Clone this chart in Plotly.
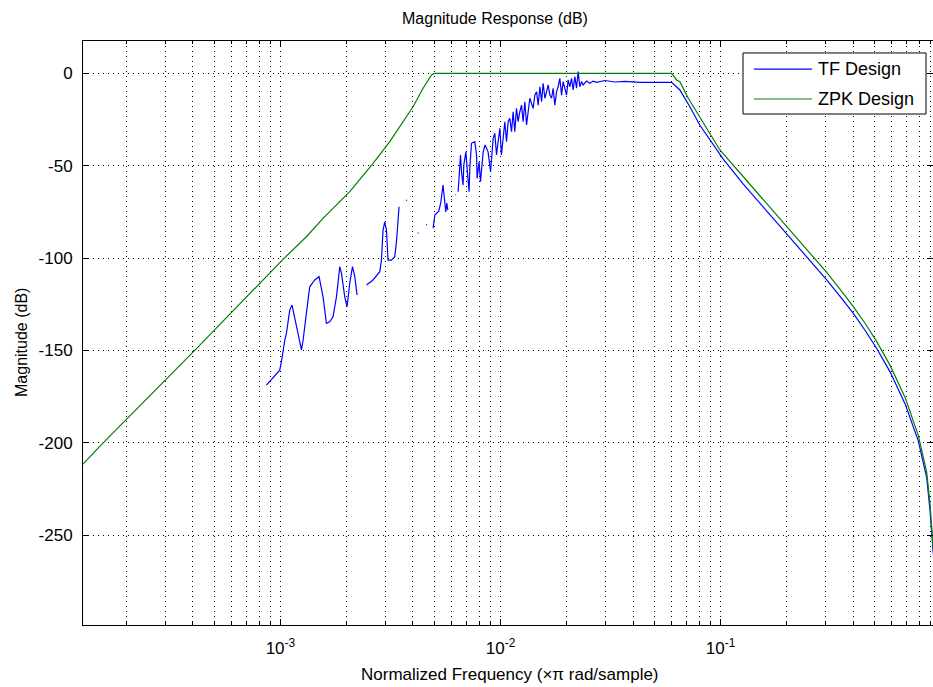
import plotly.graph_objects as go

# Normalized frequency (x pi rad/sample) and magnitude (dB); None breaks the line
tf_freq = [
    8.64e-4, 9.93e-4, 1.010e-3, 1.028e-3, 1.047e-3, 1.065e-3, 1.102e-3, 1.129e-3,
    1.161e-3, 1.202e-3, 1.246e-3, 1.268e-3, 1.312e-3, 1.359e-3, 1.432e-3, 1.498e-3,
    1.562e-3, 1.618e-3, 1.675e-3, 1.734e-3, 1.797e-3, 1.860e-3, 1.894e-3, 1.960e-3,
    2.008e-3, 2.065e-3, 2.125e-3, 2.177e-3, 2.230e-3, None,
    2.460e-3, 2.636e-3, 2.827e-3, 2.877e-3, 2.926e-3, 2.978e-3, 3.032e-3, 3.083e-3,
    3.195e-3, 3.307e-3, 3.367e-3, 3.424e-3, 3.459e-3, None,
    3.72e-3, 3.76e-3, None,
    4.20e-3, 4.24e-3, None,
    4.59e-3, 4.63e-3, None,
    4.94e-3, 5.03e-3, 5.24e-3, 5.35e-3, 5.48e-3, 5.55e-3, 5.64e-3, 5.70e-3, 5.76e-3, None,
    5.97e-3, 6.01e-3, None,
    6.24e-3, 6.28e-3, None,
    6.42e-3, 6.48e-3, 6.58e-3, 6.65e-3, 6.76e-3, 6.81e-3, 6.96e-3, 7.06e-3, 7.20e-3,
    7.25e-3, 7.38e-3, 7.64e-3, 7.78e-3, 7.83e-3, 7.99e-3, 8.11e-3, 8.22e-3, 8.34e-3,
    8.51e-3, 8.78e-3, 9.01e-3, 9.10e-3, 9.26e-3, 9.42e-3, 9.59e-3, 9.75e-3, 9.93e-3,
    1.010e-2, 1.027e-2, 1.046e-2, 1.065e-2, 1.083e-2, 1.102e-2, 1.122e-2, 1.141e-2,
    1.161e-2, 1.182e-2, 1.202e-2, 1.224e-2, 1.246e-2, 1.267e-2, 1.290e-2, 1.313e-2,
    1.335e-2, 1.359e-2, 1.407e-2, 1.432e-2, 1.458e-2, 1.483e-2, 1.510e-2, 1.537e-2,
    1.562e-2, 1.591e-2, 1.619e-2, 1.646e-2, 1.676e-2, 1.706e-2, 1.734e-2, 1.765e-2,
    1.797e-2, 1.827e-2, 1.860e-2, 1.894e-2, 1.926e-2, 1.960e-2, 1.995e-2, 2.029e-2,
    2.065e-2, 2.102e-2, 2.138e-2, 2.177e-2, 2.215e-2, 2.253e-2, 2.293e-2, 2.334e-2,
    2.374e-2, 2.460e-2, 2.547e-2, 2.636e-2, 2.732e-2, 2.98e-2, 3.307e-2, 3.67e-2,
    4.30e-2, 5.03e-2, 5.99e-2, 6.53e-2, 7.25e-2, 8.04e-2, 0.1028, 0.1268, 0.1618,
    0.1995, 0.2512, 0.3034, 0.3548, 0.401, 0.457, 0.512, 0.588, 0.689, 0.791,
    0.864, 0.894, 0.912, 0.927,
]
tf_db = [
    -168.8, -160.7, -156.2, -149.8, -144.4, -140.8, -128.2, -125.5,
    -131.8, -140.8, -149.8, -144.4, -130.0, -115.6, -111.9, -110.1,
    -121.0, -135.4, -134.5, -131.8, -121.0, -104.7, -108.3, -121.0,
    -126.4, -113.7, -104.7, -110.1, -120.0, None,
    -114.6, -111.9, -107.4, -101.1, -84.9, -80.4, -84.9, -101.1,
    -101.1, -99.3, -91.2, -79.4, -72.2, None,
    -68.6, -68.9, None,
    -86.6, -86.4, None,
    -82.1, -81.8, None,
    -83.9, -76.7, -74.6, -70.2, -60.5, -68.6, -75.1, -70.2, -74.0, None,
    -68.6, -68.3, None,
    -65.9, -65.6, None,
    -64.1, -55.1, -44.2, -53.3, -60.5, -49.7, -42.5, -52.4, -64.1,
    -51.4, -37.9, -37.0, -44.2, -56.9, -47.9, -58.7, -49.7, -42.5,
    -38.8, -42.5, -53.3, -44.2, -35.2, -32.5, -44.2, -37.0, -29.8,
    -44.2, -33.4, -26.2, -37.0, -26.2, -24.4, -31.6, -20.8,
    -31.6, -19.0, -26.2, -20.8, -17.2, -26.2, -15.4, -28.0,
    -20.8, -13.5, -19.0, -11.8, -10.0, -17.2, -7.3, -15.4,
    -5.4, -13.5, -10.0, -6.3, -11.8, -13.5, -8.1, -17.2,
    -10.0, -7.3, -2.7, -11.8, -4.5, -8.1, -11.8, -3.6,
    -7.3, -2.7, -9.0, -1.8, -8.1, 0.9, -7.3, -4.5,
    -6.3, -4.2, -5.4, -4.2, -4.9, -3.9, -4.7, -4.4,
    -4.9, -4.9, -4.9, -9.0, -18.1, -28.0, -46.5, -60.0, -74.5,
    -87.0, -100.5, -111.8, -121.8, -130.0, -139.8, -149.0, -161.5, -179.0, -199.0,
    -219.0, -236.5, -248.0, -261.0,
]

zpk_freq = [
    1.267e-4, 1.557e-4, 4.08e-4, 7.25e-4, 1.028e-3, 1.312e-3, 1.562e-3, 2.065e-3,
    2.636e-3, 3.14e-3, 3.607e-3, 4.005e-3, 4.447e-3, 4.858e-3, 5.03e-3, 5.99e-2,
    6.31e-2, 6.53e-2, 7.13e-2, 8.04e-2, 0.0993, 0.1268, 0.1618, 0.1995, 0.2512,
    0.3034, 0.3548, 0.401, 0.457, 0.512, 0.588, 0.689, 0.791, 0.864, 0.894,
    0.912, 0.927,
]
zpk_db = [
    -211.6, -200.4, -150.0, -119.1, -100.7, -88.5, -78.5, -64.1,
    -48.7, -37.0, -26.2, -18.1, -8.1, -0.9, 0.0, 0.0,
    -3.6, -4.5, -13.5, -23.5, -41.5, -56.0, -70.4, -82.6, -96.3,
    -107.8, -118.0, -126.3, -136.0, -145.3, -158.0, -175.5, -196.0, -216.0, -233.0,
    -245.0, -259.0,
]

series_names = ["TF Design", "ZPK Design"]
series_colors = ["rgb(0,0,255)", "rgb(0,128,0)"]

major_ticks = [1e-3, 1e-2, 1e-1]
major_text = ["10<sup>-3</sup>", "10<sup>-2</sup>", "10<sup>-1</sup>"]
minor_ticks = [m * 10.0 ** e for e in (-4, -3, -2, -1) for m in range(2, 10)]
y_ticks = [0, -50, -100, -150, -200, -250]
y_text = ["0", "-50", "-100", "-150", "-200", "-250"]

FONT = "Liberation Sans, Arial, sans-serif"
GRID = "1px,4px"

fig = go.Figure()
for xs, ys, name, color in [(tf_freq, tf_db, series_names[0], series_colors[0]),
                            (zpk_freq, zpk_db, series_names[1], series_colors[1])]:
    fig.add_trace(go.Scatter(
        x=xs, y=ys, mode="lines", name=name,
        line=dict(color=color, width=1.2), connectgaps=False, showlegend=False,
    ))

# Boxed legend in the upper-right corner
legend_shapes = [
    dict(type="rect", xref="paper", yref="paper", x0=0.7765, x1=0.9918, y0=0.875, y1=0.9795,
         line=dict(color="black", width=1), fillcolor="white", layer="above"),
]
legend_notes = []
for i, (name, color) in enumerate(zip(series_names, series_colors)):
    yy = 0.952 - i * 0.0513
    legend_shapes.append(dict(type="line", xref="paper", yref="paper",
                              x0=0.7894, x1=0.8576, y0=yy, y1=yy,
                              line=dict(color=color, width=1.2), layer="above"))
    legend_notes.append(dict(text=name, xref="paper", yref="paper", x=0.8625, y=yy,
                             xanchor="left", yanchor="middle", showarrow=False,
                             font=dict(size=18)))

fig.update_layout(
    width=933, height=687,
    margin=dict(l=83, r=0, t=41, b=62),
    paper_bgcolor="white", plot_bgcolor="white",
    font=dict(family=FONT, size=16, color="black"),
    showlegend=False,
    xaxis=dict(
        type="log", range=[-3.897, -0.035],
        tickmode="array", tickvals=major_ticks, ticktext=major_text,
        ticks="inside", ticklen=6, tickcolor="black",
        showline=True, linecolor="black", linewidth=1, mirror="allticks",
        showgrid=True, gridcolor="black", griddash=GRID, gridwidth=1,
        minor=dict(tickvals=minor_ticks, ticks="inside", ticklen=3, tickcolor="black",
                   showgrid=True, gridcolor="black", griddash=GRID, gridwidth=1),
        tickfont=dict(size=17), zeroline=False, ticklabelstandoff=8,
    ),
    yaxis=dict(
        range=[-298.7, 17.5],
        tickmode="array", tickvals=y_ticks, ticktext=y_text,
        ticks="inside", ticklen=6, tickcolor="black",
        showline=True, linecolor="black", linewidth=1, mirror="allticks",
        showgrid=True, gridcolor="black", griddash=GRID, gridwidth=1,
        zeroline=False, tickfont=dict(size=17), ticklabelstandoff=6,
    ),
    shapes=legend_shapes,
    annotations=[
        dict(text="Magnitude Response (dB)", xref="paper", yref="paper",
             x=0.4847, y=1.0377, xanchor="center", yanchor="middle",
             showarrow=False, font=dict(size=16)),
        dict(text="Normalized Frequency (\u00d7\u03c0 rad/sample)", xref="paper", yref="paper",
             x=0.502, y=-0.0856, xanchor="center", yanchor="middle",
             showarrow=False, font=dict(size=17)),
        dict(text="Magnitude (dB)", xref="paper", yref="paper",
             x=-0.0718, y=0.4846, xanchor="center", yanchor="middle", textangle=-90,
             showarrow=False, font=dict(size=16)),
    ] + legend_notes,
)

fig.write_html("out.html")
